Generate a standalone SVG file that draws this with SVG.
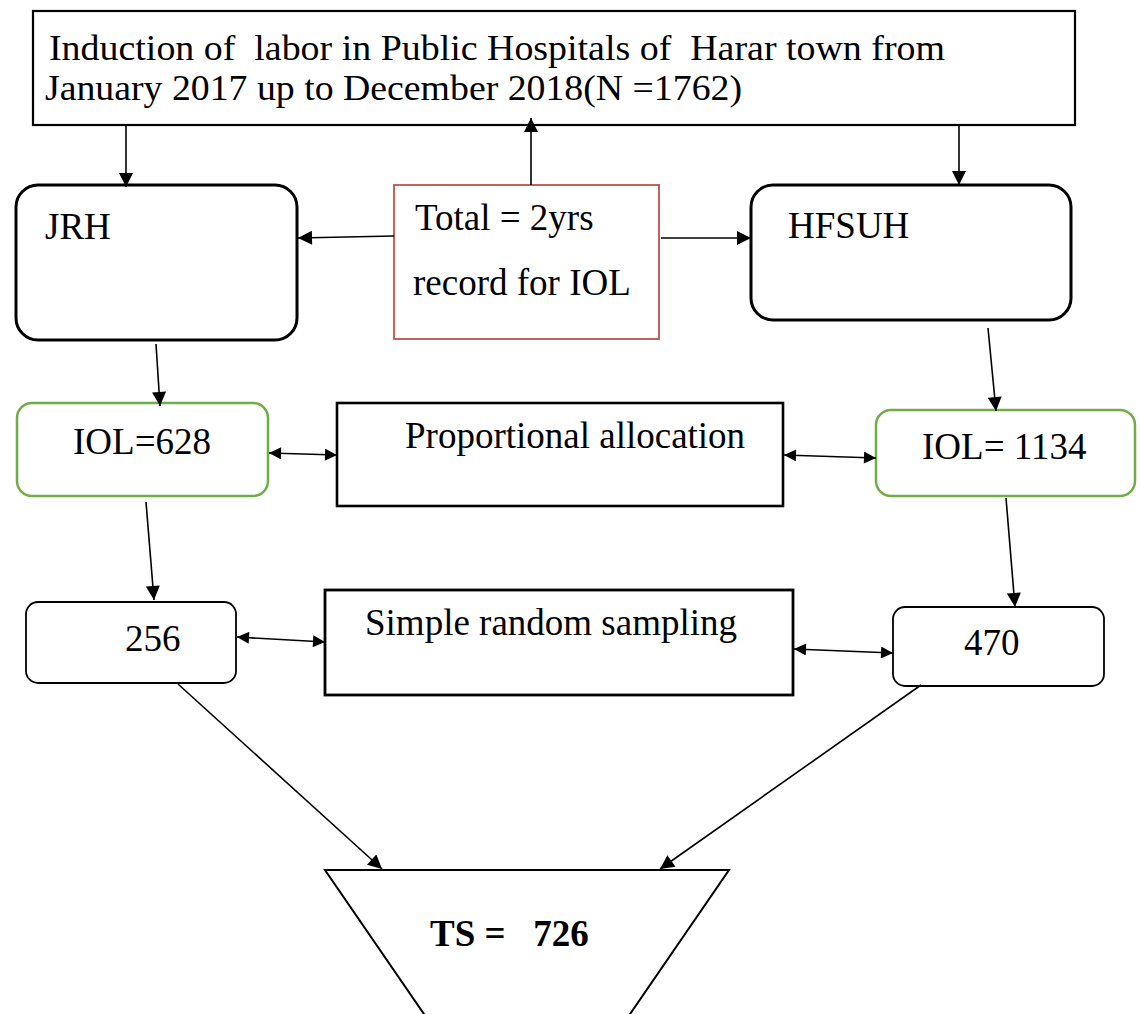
<svg xmlns="http://www.w3.org/2000/svg" width="1140" height="1014" viewBox="0 0 1140 1014">
<style>
text{font-family:"Liberation Serif","Times New Roman",serif;fill:#000}
.t{font-size:37px}
.box{fill:#fff;stroke:#000}
.conn line{stroke:#000;stroke-width:1.6;fill:none}
</style>
<defs>
<marker id="ah" viewBox="0 0 10 10" refX="10" refY="5" markerWidth="15" markerHeight="14" markerUnits="userSpaceOnUse" orient="auto-start-reverse"><path d="M0,0 L10,5 L0,10 z" fill="#000"/></marker>
<marker id="ah2" viewBox="0 0 10 10" refX="10" refY="5" markerWidth="13" markerHeight="12" markerUnits="userSpaceOnUse" orient="auto-start-reverse"><path d="M0,0 L10,5 L0,10 z" fill="#000"/></marker>
</defs>
<rect width="1140" height="1014" fill="#fff"/>
<g id="top">
<rect class="box" x="33" y="11" width="1042" height="114" stroke-width="2.2"/>
<text x="49" y="60" font-size="36" textLength="896" lengthAdjust="spacingAndGlyphs" xml:space="preserve">Induction of  labor in Public Hospitals of  Harar town from</text>
<text x="45" y="100" font-size="36" textLength="697" lengthAdjust="spacingAndGlyphs">January 2017 up to December 2018(N =1762)</text>
</g>
<g id="jrh">
<rect class="box" x="16" y="185" width="281" height="155" rx="22" stroke-width="3"/>
<text class="t" x="45" y="239">JRH</text>
</g>
<g id="total">
<rect x="394" y="185" width="265" height="154" fill="#fff" stroke="#c0504d" stroke-width="1.8"/>
<text class="t" x="415" y="230">Total = 2yrs</text>
<text class="t" x="413" y="295">record for IOL</text>
</g>
<g id="hfsuh">
<rect class="box" x="751" y="185" width="320" height="135" rx="22" stroke-width="3"/>
<text class="t" x="788" y="238">HFSUH</text>
</g>
<g id="iol628">
<rect x="17" y="403" width="251" height="93" rx="15" fill="#fff" stroke="#70ad47" stroke-width="2.5"/>
<text class="t" x="73" y="454">IOL=628</text>
</g>
<g id="prop">
<rect class="box" x="337" y="403" width="446" height="103" stroke-width="2.6"/>
<text class="t" x="405" y="448">Proportional allocation</text>
</g>
<g id="iol1134">
<rect x="876" y="410" width="259" height="86" rx="15" fill="#fff" stroke="#70ad47" stroke-width="2.5"/>
<text class="t" x="922" y="459">IOL= 1134</text>
</g>
<g id="n256">
<rect class="box" x="26" y="602" width="210" height="81" rx="12" stroke="#222" stroke-width="1.8"/>
<text class="t" x="125" y="651">256</text>
</g>
<g id="srs">
<rect class="box" x="325" y="590" width="468" height="105" stroke-width="2.8"/>
<text class="t" x="365" y="635">Simple random sampling</text>
</g>
<g id="n470">
<rect class="box" x="893" y="607" width="211" height="79" rx="12" stroke="#222" stroke-width="1.8"/>
<text class="t" x="964" y="655">470</text>
</g>
<g id="ts">
<polygon points="325,870 729,870 527,1164" fill="#fff" stroke="#000" stroke-width="2"/>
<text x="430" y="946" font-size="37" font-weight="bold" xml:space="preserve">TS =   726</text>
</g>
<g class="conn" id="connectors">
<line x1="126" y1="125" x2="126" y2="187" marker-end="url(#ah)"/>
<line x1="531" y1="185" x2="531" y2="118" marker-end="url(#ah)"/>
<line x1="959" y1="125" x2="959" y2="185" marker-end="url(#ah)"/>
<line x1="394" y1="236" x2="298" y2="238" marker-end="url(#ah)"/>
<line x1="661" y1="238" x2="751" y2="238" marker-end="url(#ah)"/>
<line x1="156" y1="344" x2="160" y2="406" marker-end="url(#ah)"/>
<line x1="988" y1="328" x2="996" y2="411" marker-end="url(#ah)"/>
<line x1="269" y1="453" x2="337" y2="455" marker-start="url(#ah2)" marker-end="url(#ah2)"/>
<line x1="784" y1="455" x2="876" y2="458" marker-start="url(#ah2)" marker-end="url(#ah2)"/>
<line x1="146" y1="502" x2="154" y2="600" marker-end="url(#ah)"/>
<line x1="1006" y1="498" x2="1015" y2="607" marker-end="url(#ah)"/>
<line x1="237" y1="637" x2="325" y2="642" marker-start="url(#ah2)" marker-end="url(#ah2)"/>
<line x1="794" y1="649" x2="893" y2="653" marker-start="url(#ah2)" marker-end="url(#ah2)"/>
<line x1="178" y1="684" x2="382" y2="869" marker-end="url(#ah)"/>
<line x1="921" y1="685" x2="660" y2="869" marker-end="url(#ah)"/>
</g>
</svg>
